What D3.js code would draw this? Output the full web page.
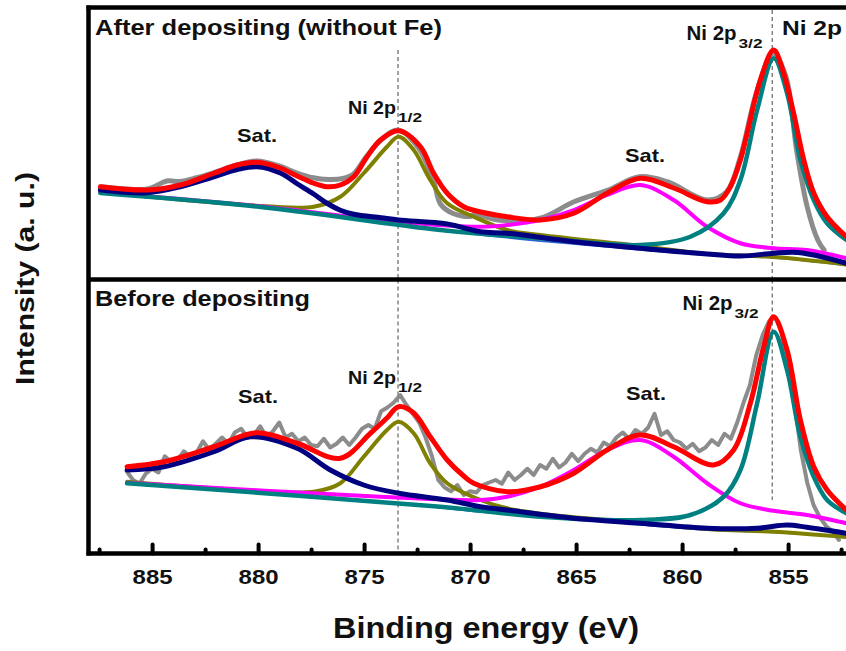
<!DOCTYPE html>
<html>
<head>
<meta charset="utf-8">
<script src="https://cdn.jsdelivr.net/npm/d3@7"></script>
<style>
  html, body { margin: 0; padding: 0; background: #fff; }
  svg { display: block; font-family: "Liberation Sans", Arial, sans-serif; font-weight: bold; }
</style>
</head>
<body>
<svg id="chart" width="846" height="651"></svg>
<script>
// binding energy (eV), intensity (a.u.) pairs

// --- after depositing (top panel)
const topRaw = [
  [887.4,369],[886.5,362],[885.2,360],[884.3,392],[883.7,390],[882.9,405],[882.1,425],[881.0,456],
  [880.05,472],[879.0,452],[878.2,425],[877.4,405],[876.7,398],[876.0,402],[875.5,420],[874.9,489],
  [874.2,556],[873.4,596],[872.4,520],[871.7,385],[871.4,300],[870.8,262],[870.0,250],[869.8,258],
  [868.7,236],[866.7,243],[865.1,309],[863.5,356],[862.0,409],[860.7,389],[858.8,316],[857.9,349],
  [857.25,489],[856.5,743],[855.7,903],[855.1,809],[854.6,516],[854.1,289],[853.6,156],[853.3,116]
];
const topEnvelope = [
  [887.44,369],[885.24,356],[883.67,376],[882.09,423],[880.99,456],[880.05,467],[878.95,444],[878.16,412],
  [877.38,383],[876.75,369],[876.12,376],[875.49,409],[874.86,489],[874.23,556],[873.37,593],[872.34,529],
  [871.72,423],[871.08,343],[870.30,289],[869.83,275],[868.25,249],[866.68,236],[865.11,263],[863.54,343],
  [861.97,403],[860.40,364],[858.82,309],[858.19,316],[857.72,369],[857.25,476],[856.93,584],[856.31,796],
  [855.68,916],[855.21,824],[854.74,664],[854.26,476],[853.79,344],[853.16,249],[852.25,169]
];
const topSat1 = [
  [887.44,356],[885.24,345],[883.67,369],[882.09,409],[880.99,438],[880.05,449],[878.95,424],[878.16,381],
  [877.38,340],[876.75,303],[876.12,275],[875.49,259],[874.2,245],[873.37,236],[871.08,220],[869.51,189],
  [868.25,183],[865.11,149],[861.97,123],[858.82,100],[857.25,92],[855.68,103],[854.74,107],[853.79,96],
  [852.25,63]
];
const topBackground = [
  [887.44,344],[880.05,289],[873.37,216],[869.51,176],[865.11,140],[858.82,96],[855.68,84],[852.25,54]
];
const topP12 = [
  [887.44,349],[880.52,296],[877.38,289],[876.12,329],[875.02,423],[873.92,529],[873.37,569],[872.66,516],
  [871.88,396],[871.08,303],[869.83,249],[868.25,196],[866.68,176],[862.0,132],[858.82,100],[855.68,88],
  [852.25,58]
];
const topSat2 = [
  [887.44,346],[880.05,292],[873.37,228],[869.51,209],[868.25,216],[866.68,236],[865.11,276],[863.54,336],
  [861.97,376],[860.40,316],[858.82,209],[857.25,143],[855.68,123],[854.11,116],[852.25,83]
];
const topP32 = [
  [887.44,344],[880.05,290],[871.4,196],[866.68,163],[861.97,136],[859.61,169],[858.04,263],[857.25,396],
  [856.46,676],[855.68,883],[855.05,744],[854.42,476],[853.79,316],[853.16,223],[852.25,156]
];

// --- before depositing (bottom panel)
const botRaw = [
  [886.2,335],[885.9,300],[885.6,285],[885.3,325],[885.0,345],[884.7,330],[884.4,395],[884.1,370],
  [883.8,380],[883.5,415],[883.2,390],[882.9,410],[882.6,455],[882.3,420],[882.0,445],[881.7,470],
  [881.4,445],[881.1,490],[880.8,505],[880.5,470],[880.2,480],[879.9,515],[879.6,470],[879.3,495],
  [879.0,530],[878.7,470],[878.4,485],[878.1,455],[877.8,470],[877.5,440],[877.2,435],[876.9,465],
  [876.6,430],[876.3,445],[876.0,470],[875.7,440],[875.4,470],[875.1,505],[874.8,520],[874.5,505],
  [874.2,575],[873.9,590],[873.6,610],[873.3,640],[873.0,600],[872.7,565],[872.4,530],[872.1,470],
  [871.8,395],[871.5,300],[871.2,270],[870.9,255],[870.6,280],[870.3,240],[870.0,255],[869.7,250],
  [869.4,280],[869.1,290],[868.8,300],[868.5,285],[868.2,330],[867.9,300],[867.6,320],[867.3,345],
  [867.0,320],[866.7,360],[866.4,345],[866.1,385],[865.8,350],[865.5,370],[865.2,405],[864.9,375],
  [864.6,405],[864.3,425],[864.0,410],[863.7,450],[863.4,435],[863.1,470],[862.8,490],[862.5,465],
  [862.2,500],[861.9,485],[861.6,510],[861.3,565],[861.0,480],[860.7,495],[860.4,460],[860.1,450],
  [859.8,425],[859.5,445],[859.2,415],[858.9,430],[858.6,460],[858.3,440],[858.0,485],[857.7,465],
  [857.4,530],[857.1,610],[856.8,680],[856.5,800],[856.2,880],[855.9,935],[855.6,950],[855.3,890],
  [855.0,760],[854.7,610],[854.4,420],[854.1,290],[853.8,200],[853.5,150],[853.2,115],[852.9,95],
  [852.6,60]
];
const botEnvelope = [
  [886.18,353],[884.45,373],[882.09,433],[880.05,489],[878.16,447],[876.12,387],[874.70,487],[873.92,548],
  [873.37,593],[872.66,568],[871.88,473],[871.08,380],[870.30,316],[869.83,287],[868.25,253],[866.68,273],
  [865.11,327],[863.54,420],[861.97,480],[860.40,433],[858.51,360],[857.57,420],[856.78,607],[856.15,833],
  [855.68,953],[855.05,820],[854.42,540],[853.79,353],[853.16,260],[852.25,180]
];
const botSat1 = [
  [886.18,340],[884.45,353],[882.09,413],[880.36,473],[878.16,427],[876.59,340],[875.02,280],[873.37,247],
  [871.08,220],[869.51,193],[868.25,180],[865.11,147],[861.97,127],[858.82,107],[856.46,107],[855.05,120],
  [854.11,111],[852.25,87]
];
const botBackground = [
  [886.18,287],[873.37,207],[869.51,172],[865.11,144],[858.82,100],[855.68,90],[852.25,70]
];
const botP12 = [
  [886.18,293],[882.09,267],[877.38,253],[876.12,287],[875.02,393],[873.92,500],[873.37,533],[872.66,487],
  [871.88,367],[871.08,287],[869.51,220],[868.25,187],[866.68,165],[862.0,128],[858.82,104],[855.68,93],
  [852.25,72]
];
const botSat2 = [
  [886.18,289],[874.23,233],[869.51,220],[868.25,233],[866.68,273],[865.11,340],[863.54,420],[861.97,460],
  [860.40,393],[858.82,287],[857.25,207],[855.68,177],[854.11,160],[852.25,127]
];
const botP32 = [
  [886.18,287],[871.4,193],[866.68,153],[861.97,140],[859.61,160],[858.04,233],[857.25,340],[856.46,607],
  [855.68,893],[855.05,740],[854.42,473],[853.79,313],[853.16,220],[852.25,167]
];

const majorTicks = [885, 880, 875, 870, 865, 860, 855];
const minorTicks = [887.5, 882.5, 877.5, 872.5, 867.5, 862.5, 857.5, 852.5];

const colors = {
  raw: '#8c8c8c', envelope: '#ff0000', sat1: '#000080', p12: '#808000',
  sat2: '#ff00ff', p32: '#008080', bg: '#2a62d8'
};

const svg = d3.select('#chart');
const W = 846, H = 651;
const left = 88.5, axisY = 553.5, topY = 7.5, midY = 279.5;

const x = d3.scaleLinear().domain([888, 850]).range([left, left + 38 * 21.2]);
const yTop = d3.scaleLinear().domain([0, 1084]).range([279, 8]);
const yBot = d3.scaleLinear().domain([0, 1100]).range([555, 280]);

function addText(g, str, px, py, size, len, opts = {}) {
  const t = g.append('text')
    .attr('x', px).attr('y', py)
    .attr('font-size', size)
    .attr('fill', '#111')
    .text(str);
  if (len) t.attr('textLength', len).attr('lengthAdjust', 'spacingAndGlyphs');
  if (opts.anchor) t.attr('text-anchor', opts.anchor);
  if (opts.transform) t.attr('transform', opts.transform);
  return t;
}

// Ni 2p label with subscript
function niLabel(g, px, py, sub, size = 19, len = 48) {
  addText(g, 'Ni 2p', px, py, size, len);
  if (sub) addText(g, sub, px + len + 2, py + 8, 12, 24);
}

const panels = [
  { y: yTop, y0: topY, y1: midY, series: [
      ['raw', topRaw, 5], ['bg', topBackground, 1.6], ['p12', topP12, 4], ['sat2', topSat2, 4],
      ['p32', topP32, 4.5], ['sat1', topSat1, 5], ['envelope', topEnvelope, 5]
    ],
    dash: [[873.4, 50], [855.75, 10]] },
  { y: yBot, y0: midY, y1: axisY, series: [
      ['raw', botRaw, 4], ['bg', botBackground, 1.6], ['p12', botP12, 4], ['sat2', botSat2, 4],
      ['p32', botP32, 4.5], ['sat1', botSat1, 5], ['envelope', botEnvelope, 5]
    ],
    dash: [[873.4, 550], [855.75, 500]] }
];

panels.forEach((p, i) => {
  const g = svg.append('g');
  const clipId = 'clip' + i;
  svg.append('clipPath').attr('id', clipId)
    .append('rect').attr('x', left).attr('y', p.y0).attr('width', W - left).attr('height', p.y1 - p.y0);
  g.attr('clip-path', `url(#${clipId})`);

  // dashed guide lines at the main peaks
  p.dash.forEach(([e, end]) => {
    g.append('line')
      .attr('x1', x(e)).attr('x2', x(e))
      .attr('y1', i === 0 ? end : p.y0).attr('y2', i === 0 ? p.y1 : end)
      .attr('stroke', '#444').attr('stroke-width', 1)
      .attr('stroke-dasharray', '4,3');
  });

  const line = d3.line()
    .x(d => x(d[0]))
    .y(d => p.y(d[1]));

  p.series.forEach(([key, data, w]) => {
    line.curve(key === 'raw' && i === 1 ? d3.curveLinear : d3.curveCatmullRom.alpha(0.5));
    g.append('path')
      .datum(data)
      .attr('d', line)
      .attr('fill', 'none')
      .attr('stroke', colors[key])
      .attr('stroke-width', w)
      .attr('stroke-linejoin', 'round')
      .attr('stroke-linecap', 'round');
  });
});

// frame
const frame = svg.append('g').attr('stroke', '#000').attr('stroke-width', 4.5);
frame.append('line').attr('x1', left - 2).attr('x2', W).attr('y1', topY).attr('y2', topY);
frame.append('line').attr('x1', left).attr('x2', left).attr('y1', topY - 2).attr('y2', axisY + 2);
frame.append('line').attr('x1', left).attr('x2', W).attr('y1', midY).attr('y2', midY);
frame.append('line').attr('x1', left - 2).attr('x2', W).attr('y1', axisY).attr('y2', axisY);

// ticks (pointing inward)
const major = svg.append('g')
  .attr('transform', `translate(0,${axisY})`)
  .call(d3.axisBottom(x).tickValues(majorTicks).tickSize(-9).tickPadding(16).tickFormat(d3.format('d')));
const minor = svg.append('g')
  .attr('transform', `translate(0,${axisY})`)
  .call(d3.axisBottom(x).tickValues(minorTicks).tickSize(-4).tickFormat(''));
[major, minor].forEach(a => {
  a.select('.domain').remove();
  a.selectAll('.tick line').attr('stroke', '#000').attr('stroke-width', 4).attr('stroke-linecap', 'round');
});
major.selectAll('.tick text')
  .attr('font-size', 21)
  .attr('font-family', '"Liberation Sans", Arial, sans-serif')
  .attr('font-weight', 'bold')
  .attr('fill', '#111')
  .attr('textLength', 40)
  .attr('lengthAdjust', 'spacingAndGlyphs');

// titles
const labels = svg.append('g');
addText(labels, 'Binding energy (eV)', 486, 638, 29, 306, { anchor: 'middle' });
addText(labels, 'Intensity (a. u.)', 0, 0, 26, 213,
  { anchor: 'middle', transform: 'translate(33.5,278.5) rotate(-90)' });

addText(labels, 'After depositing (without Fe)', 95, 35, 22, 347);
addText(labels, 'Before depositing', 95, 306, 22, 215);

addText(labels, 'Sat.', 237, 141.5, 19, 40);
addText(labels, 'Sat.', 625, 161.5, 19, 40);
addText(labels, 'Sat.', 238, 403, 19, 40);
addText(labels, 'Sat.', 626, 400, 19, 40);

niLabel(labels, 348, 113.5, '1/2');
niLabel(labels, 686.5, 40, '3/2', 20, 50);
niLabel(labels, 782, 35, null, 21, 60);
niLabel(labels, 348, 383.5, '1/2');
niLabel(labels, 682.5, 310, '3/2', 20, 50);
</script>
</body>
</html>
